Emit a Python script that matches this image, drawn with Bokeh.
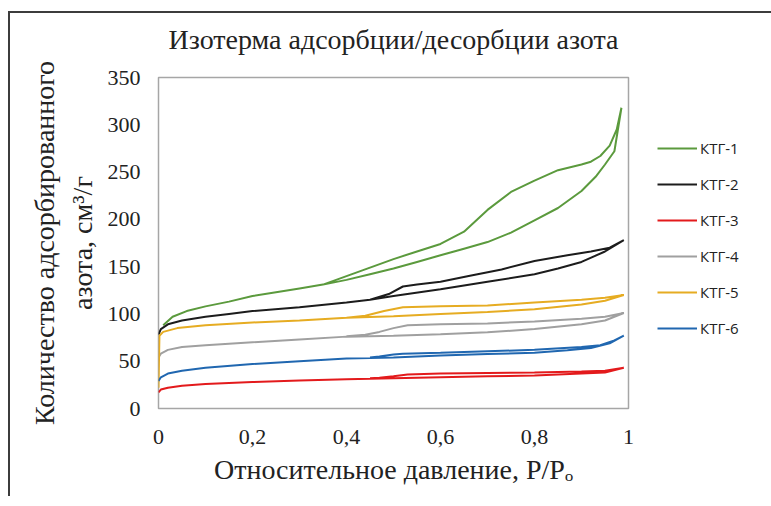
from bokeh.plotting import figure
from bokeh.models import Legend, LegendItem, FixedTicker, Title
from bokeh.embed import file_html
from bokeh.resources import INLINE

# ---- data ----
labels = ["КТГ-1", "КТГ-2", "КТГ-3", "КТГ-4", "КТГ-5", "КТГ-6"]
colors = ["#5b9a3d", "#1c1c1c", "#e31a1c", "#a0a0a0", "#e6ac22", "#2067b0"]

ktg1_ads_p = [0.01, 0.03, 0.06, 0.1, 0.15, 0.2, 0.25, 0.3, 0.35, 0.4, 0.45, 0.5, 0.55, 0.6, 0.65, 0.7, 0.75, 0.8, 0.85, 0.9, 0.93, 0.95, 0.97, 0.985]
ktg1_ads_v = [88, 97, 103, 108, 113, 119, 123, 127, 131, 136, 142, 148, 155, 162, 169, 176, 186, 199, 212, 230, 245, 258, 272, 318]
ktg1_des_p = [0.985, 0.975, 0.96, 0.94, 0.92, 0.9, 0.85, 0.8, 0.75, 0.7, 0.65, 0.6, 0.55, 0.5, 0.45, 0.4, 0.35]
ktg1_des_v = [318, 295, 278, 267, 261, 258, 252, 241, 229, 210, 187, 174, 166, 158, 149, 140, 131]

ktg2_ads_p = [0.0, 0.005, 0.02, 0.05, 0.1, 0.15, 0.2, 0.3, 0.4, 0.45, 0.5, 0.6, 0.7, 0.8, 0.85, 0.9, 0.95, 0.99]
ktg2_ads_v = [78, 84, 89, 93, 97, 100, 103, 107, 112, 115, 119, 126, 134, 142, 148, 155, 166, 178]
ktg2_des_p = [0.99, 0.96, 0.92, 0.87, 0.8, 0.73, 0.66, 0.6, 0.55, 0.52, 0.49, 0.45]
ktg2_des_v = [178, 170, 166, 162, 156, 147, 140, 134, 131, 129, 121, 115]

ktg3_ads_p = [0.0, 0.005, 0.02, 0.05, 0.1, 0.2, 0.3, 0.4, 0.5, 0.6, 0.7, 0.8, 0.9, 0.95, 0.99]
ktg3_ads_v = [17, 20, 22, 24, 26, 28, 29.5, 31, 32, 33, 34, 35, 37, 38, 43]
ktg3_des_p = [0.99, 0.95, 0.9, 0.8, 0.7, 0.6, 0.53, 0.5, 0.47, 0.45]
ktg3_des_v = [43, 40, 39, 38, 37.5, 37, 36, 34, 32.5, 32]

ktg4_ads_p = [0.0, 0.005, 0.02, 0.05, 0.1, 0.2, 0.3, 0.4, 0.5, 0.6, 0.7, 0.8, 0.9, 0.95, 0.99]
ktg4_ads_v = [54, 58, 62, 65, 67, 70, 73, 76, 77, 78.5, 80.5, 84, 89, 93, 101]
ktg4_des_p = [0.99, 0.95, 0.9, 0.8, 0.7, 0.6, 0.53, 0.5, 0.47, 0.44, 0.4]
ktg4_des_v = [101, 97, 95, 92, 90, 89, 88, 85, 81, 78, 76.5]

ktg5_ads_p = [0.0, 0.002, 0.01, 0.04, 0.1, 0.2, 0.3, 0.4, 0.5, 0.6, 0.7, 0.8, 0.9, 0.95, 0.99]
ktg5_ads_v = [22, 77, 81, 85, 88, 91, 93, 96, 97.5, 100, 102, 105, 110, 114, 120]
ktg5_des_p = [0.99, 0.95, 0.9, 0.8, 0.7, 0.6, 0.52, 0.48, 0.44, 0.4]
ktg5_des_v = [120, 117, 115, 112, 109, 108, 107, 103, 98, 96]

ktg6_ads_p = [0.0, 0.005, 0.02, 0.05, 0.1, 0.2, 0.3, 0.4, 0.5, 0.6, 0.7, 0.8, 0.87, 0.92, 0.96, 0.99]
ktg6_ads_v = [29, 33, 37, 40, 43, 47, 50, 53, 54, 56, 57.5, 59, 61.5, 64, 69, 77]
ktg6_des_p = [0.99, 0.97, 0.94, 0.9, 0.8, 0.7, 0.6, 0.52, 0.5, 0.47, 0.45]
ktg6_des_v = [77, 72, 67, 65, 62, 60.5, 59, 58, 57, 55, 54]

x_ticks = [0, 0.2, 0.4, 0.6, 0.8, 1]
x_tick_labels = {0: "0", 0.2: "0,2", 0.4: "0,4", 0.6: "0,6", 0.8: "0,8", 1: "1"}
y_ticks = [0, 50, 100, 150, 200, 250, 300, 350]

series = [
    (ktg1_ads_p, ktg1_ads_v, ktg1_des_p, ktg1_des_v),
    (ktg2_ads_p, ktg2_ads_v, ktg2_des_p, ktg2_des_v),
    (ktg3_ads_p, ktg3_ads_v, ktg3_des_p, ktg3_des_v),
    (ktg4_ads_p, ktg4_ads_v, ktg4_des_p, ktg4_des_v),
    (ktg5_ads_p, ktg5_ads_v, ktg5_des_p, ktg5_des_v),
    (ktg6_ads_p, ktg6_ads_v, ktg6_des_p, ktg6_des_v),
]

SERIF = "Liberation Serif"
TXT = "#222222"

p = figure(frame_width=470, frame_height=331, x_range=(0, 1), y_range=(0, 350),
           output_backend="svg", toolbar_location=None,
           min_border_left=148, min_border_right=130,
           min_border_top=64, min_border_bottom=88)
p.styles = {"margin": "11px 0px 0px 8px",
            "border-top": "2px solid #3c3c3c", "border-left": "2px solid #3c3c3c"}
p.title.text = ""

# spacer (nearest the frame) then the real title above it
spacer = Title(text=" ", text_font_size="6px", standoff=8)
main_title = Title(text="Изотерма адсорбции/десорбции азота", text_font=SERIF,
                   text_font_size="28px", text_font_style="normal",
                   text_color=TXT, align="center", standoff=13)
p.add_layout(spacer, "above")
p.add_layout(main_title, "above")

p.grid.visible = False
p.outline_line_color = "#a6a6a6"
p.outline_line_width = 1.5
p.background_fill_color = "white"
p.border_fill_color = "white"

for ax in (p.xaxis[0], p.yaxis[0]):
    ax.axis_line_color = None
    ax.major_tick_line_color = None
    ax.minor_tick_line_color = None
    ax.major_label_text_font = SERIF
    ax.major_label_text_font_size = "22px"
    ax.major_label_text_color = TXT
    ax.axis_label_text_font = SERIF
    ax.axis_label_text_font_size = "28px"
    ax.axis_label_text_font_style = "normal"
    ax.axis_label_text_color = TXT

p.xaxis.ticker = FixedTicker(ticks=x_ticks)
p.xaxis.major_label_overrides = x_tick_labels
p.xaxis.major_label_standoff = 15
p.xaxis.axis_label = "Относительное давление, P/Pₒ"
p.xaxis.axis_label_standoff = 7

p.yaxis.ticker = FixedTicker(ticks=y_ticks)
p.yaxis.major_label_standoff = 12
p.yaxis.axis_label = "Количество адсорбированного\nазота, см³/г"
p.yaxis.axis_label_standoff = 7

items = []
for (ap, av, dp, dv), lab, col in zip(series, labels, colors):
    xs = list(ap) + list(dp)
    ys = list(av) + list(dv)
    r = p.line(xs, ys, line_color=col, line_width=2)
    items.append(LegendItem(label=lab, renderers=[r]))

legend = Legend(items=items, location="top_left")
legend.title = " "
legend.title_text_font_size = "12px"
legend.title_standoff = 18
legend.border_line_color = None
legend.background_fill_alpha = 0
legend.glyph_width = 40
legend.glyph_height = 20
legend.label_height = 20
legend.spacing = 16
legend.label_standoff = 3
legend.padding = 0
legend.margin = 29
legend.label_text_font = "Open Sans"
legend.label_text_font_size = "15px"
legend.label_text_color = TXT
p.add_layout(legend, "right")

open("out.html", "w").write(file_html(p, INLINE))
